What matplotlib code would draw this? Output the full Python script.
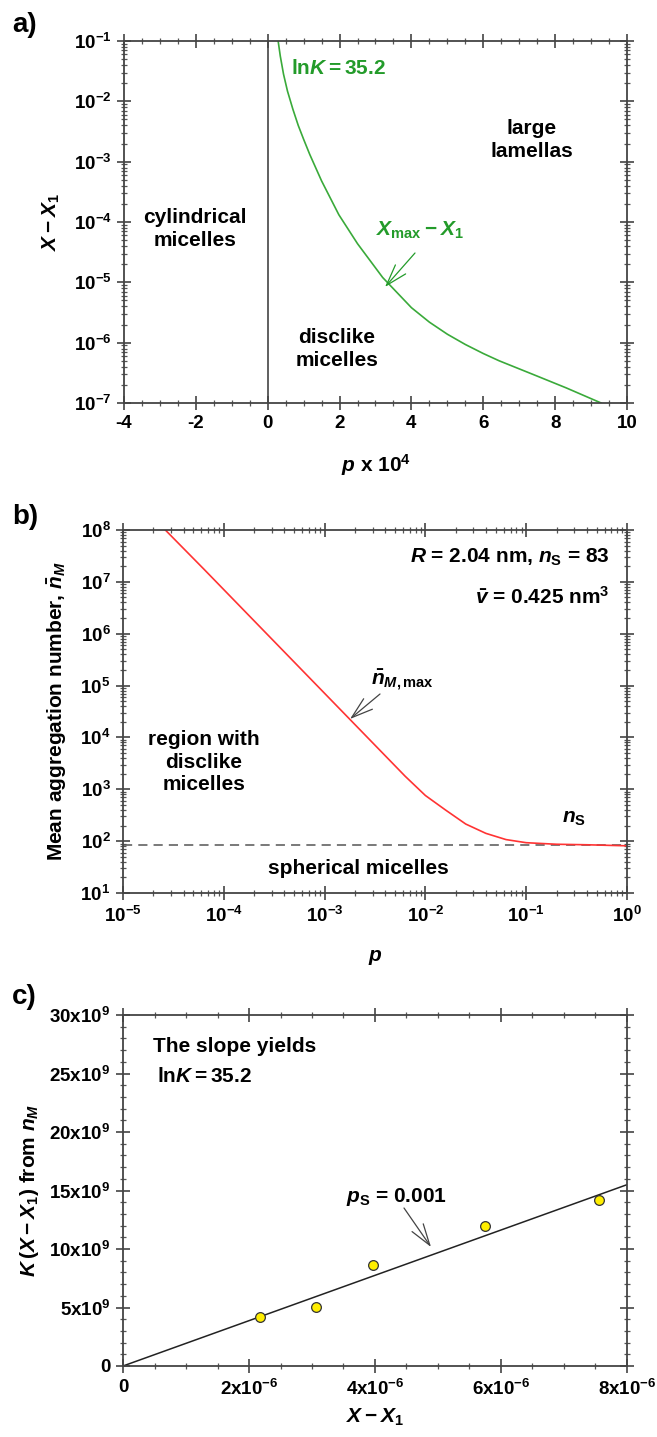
import numpy as np
import matplotlib
matplotlib.use("Agg")
import matplotlib.pyplot as plt
from matplotlib.ticker import MultipleLocator, LogLocator, NullFormatter

plt.rcParams['font.family'] = ['Liberation Sans', 'DejaVu Sans']
plt.rcParams['font.weight'] = 'bold'
plt.rcParams['axes.labelweight'] = 'bold'
plt.rcParams['mathtext.fontset'] = 'custom'
plt.rcParams['mathtext.rm'] = 'Liberation Sans:bold'
plt.rcParams['mathtext.bf'] = 'Liberation Sans:bold'
plt.rcParams['mathtext.it'] = 'Liberation Sans:bold:italic'
plt.rcParams['mathtext.sf'] = 'Liberation Sans:bold'
plt.rcParams['axes.linewidth'] = 1.3
plt.rcParams['axes.edgecolor'] = '#444444'

# ---- data ----
# a) X_max - X_1 versus p x 10^4  (log10 of X - X1)
a_p = [0.29, 0.35, 0.44, 0.55, 0.70, 0.85, 1.0, 1.17, 1.5, 1.98, 2.5, 3.2,
       4.0, 4.5, 5.0, 5.5, 6.0, 6.44, 7.4, 8.31, 9.28]
a_logx = [-1.0, -1.25, -1.55, -1.83, -2.13, -2.4, -2.63, -2.88, -3.32, -3.88,
          -4.36, -4.92, -5.42, -5.66, -5.86, -6.03, -6.18, -6.30, -6.53,
          -6.75, -7.0]

# b) mean aggregation number versus p (log10 values)
b_logp = [-4.58, -4.2, -3.8, -3.4, -3.0, -2.6, -2.2, -2.0, -1.8, -1.6, -1.4,
          -1.2, -1.0, -0.7, -0.4, 0.0]
b_logn = [8.0, 7.25, 6.45, 5.65, 4.85, 4.05, 3.25, 2.88, 2.6, 2.33, 2.15,
          2.03, 1.97, 1.94, 1.93, 1.91]
n_s = 83

# c) K(X - X1) from n_M versus X - X1
c_x = [2.17e-6, 3.07e-6, 3.97e-6, 5.75e-6, 7.55e-6]
c_y = [4.16e9, 5.07e9, 8.63e9, 11.99e9, 14.2e9]
lnK = 35.2

W, H = 657, 1437
fig = plt.figure(figsize=(W / 100, H / 100), dpi=100)

TICK = 13.5
LAB = 15
green = '#239b2a'


def box(x0, y0, x1, y1):
    return [x0 / W, 1 - y1 / H, (x1 - x0) / W, (y1 - y0) / H]


def fp(x, y):
    return (x, H - y)


def ftext(x, y, s, **kw):
    kw.setdefault('fontsize', LAB)
    kw.setdefault('ha', 'center')
    kw.setdefault('va', 'center')
    return fig.text(x / W, 1 - y / H, s, **kw)


def arrow(tip, start, color='#444444'):
    plt.annotate('', xy=fp(*tip), xytext=fp(*start), xycoords='figure pixels',
                 textcoords='figure pixels',
                 arrowprops=dict(arrowstyle='->,head_length=1.1,head_width=0.35',
                                 color=color, lw=0.9, shrinkA=0, shrinkB=0,
                                 mutation_scale=14))


def style(ax):
    ax.tick_params(which='major', direction='inout', length=10, width=1.2,
                   top=True, right=True, labelsize=TICK, colors='#444444',
                   labelcolor='black', pad=4)
    ax.tick_params(which='minor', direction='inout', length=5, width=0.9,
                   top=True, right=True, colors='#555555')


# ---------------- panel a ----------------
ax = fig.add_axes(box(124, 41, 627, 403))
ax.set_yscale('log')
ax.set_xlim(-4, 10)
ax.set_ylim(1e-7, 1e-1)
ax.axvline(0, color='#444444', lw=1.2)
ax.plot(a_p, 10 ** np.array(a_logx), color='#3aaa3a', lw=1.2)
ax.set_xticks(range(-4, 11, 2), [str(v) for v in range(-4, 11, 2)])
ax.xaxis.set_minor_locator(MultipleLocator(0.5))
ax.set_yticks([10.0 ** k for k in range(-7, 0)],
              ['10$^{%d}$' % k for k in range(-7, 0)])
ax.yaxis.set_minor_locator(LogLocator(base=10, subs=np.arange(2, 10)))
ax.yaxis.set_minor_formatter(NullFormatter())
style(ax)
ax.set_xlabel('$p$ x 10$^4$', fontsize=LAB, labelpad=14)
ax.set_ylabel('$X - X_1$', fontsize=LAB, labelpad=8)
ftext(195, 229, 'cylindrical\nmicelles', linespacing=1.25)
ftext(532, 140, 'large\nlamellas', linespacing=1.25)
ftext(337, 349, 'disclike\nmicelles', linespacing=1.25)
ftext(12, 25, 'a)', fontsize=20, ha='left')
ftext(291, 68, r'$\mathrm{ln}K = 35.2$', color=green, ha='left')
ftext(420, 230, '$X_\\mathrm{max} - X_1$', color=green)
arrow((385, 287), (415, 253), color=green)

# ---------------- panel b ----------------
ax = fig.add_axes(box(123, 530, 627, 893))
ax.set_xscale('log')
ax.set_yscale('log')
ax.set_xlim(1e-5, 1)
ax.set_ylim(10, 1e8)
ax.axhline(n_s, color='#555555', lw=1.1, ls=(0, (6, 4)))
ax.plot(10 ** np.array(b_logp), 10 ** np.array(b_logn), color='#ff3333', lw=1.2)
ax.set_xticks([10.0 ** k for k in range(-5, 1)],
              ['10$^{%d}$' % k for k in range(-5, 1)])
ax.set_yticks([10.0 ** k for k in range(1, 9)],
              ['10$^{%d}$' % k for k in range(1, 9)])
for a_ in (ax.xaxis, ax.yaxis):
    a_.set_minor_locator(LogLocator(base=10, subs=np.arange(2, 10)))
    a_.set_minor_formatter(NullFormatter())
style(ax)
ax.set_xlabel('$p$', fontsize=LAB, labelpad=16)
ax.set_ylabel(r'Mean aggregation number, $\bar{n}_M$', fontsize=LAB, labelpad=8)
ftext(610, 557, r'$R$ = 2.04 nm, $n_\mathrm{S}$ = 83', ha='right')
ftext(610, 597, r'$\bar{v}$ = 0.425 nm$^3$', ha='right')
ftext(204, 762, 'region with\ndisclike\nmicelles', linespacing=1.25)
ftext(358, 868, 'spherical micelles')
ftext(574, 819, r'$n_\mathrm{S}$')
ftext(402, 680, r'$\bar{n}_{M,\mathrm{max}}$')
arrow((350, 719), (380, 694))
ftext(12, 517, 'b)', fontsize=20, ha='left')

# ---------------- panel c ----------------
ax = fig.add_axes(box(123, 1015, 627, 1366))
ax.set_xlim(0, 8e-6)
ax.set_ylim(0, 30e9)
xs = np.array([0, 8e-6])
ax.plot(xs, np.exp(lnK) * xs, color='#222222', lw=1.1)
ax.plot(c_x, c_y, 'o', ms=7, mfc='#ffee00', mec='#333333', mew=0.9)
ax.set_xticks([0, 2e-6, 4e-6, 6e-6, 8e-6],
              ['0', '2x10$^{-6}$', '4x10$^{-6}$', '6x10$^{-6}$', '8x10$^{-6}$'])
ax.set_yticks([0, 5e9, 10e9, 15e9, 20e9, 25e9, 30e9],
              ['0', '5x10$^9$', '10x10$^9$', '15x10$^9$', '20x10$^9$',
               '25x10$^9$', '30x10$^9$'])
ax.xaxis.set_minor_locator(MultipleLocator(0.5e-6))
ax.yaxis.set_minor_locator(MultipleLocator(1e9))
style(ax)
ax.set_xlabel('$X - X_1$', fontsize=LAB, labelpad=6)
ax.set_ylabel('$K\\,(X - X_1)$ from $n_M$', fontsize=LAB, labelpad=6)
ftext(153, 1047, 'The slope yields', ha='left')
ftext(157, 1076, r'$\mathrm{ln}K = 35.2$', ha='left')
ftext(397, 1197, r'$p_\mathrm{S}$ = 0.001')
arrow((431, 1247), (404, 1208))
ftext(12, 997, 'c)', fontsize=20, ha='left')

fig.savefig('out.png', dpi=100)
